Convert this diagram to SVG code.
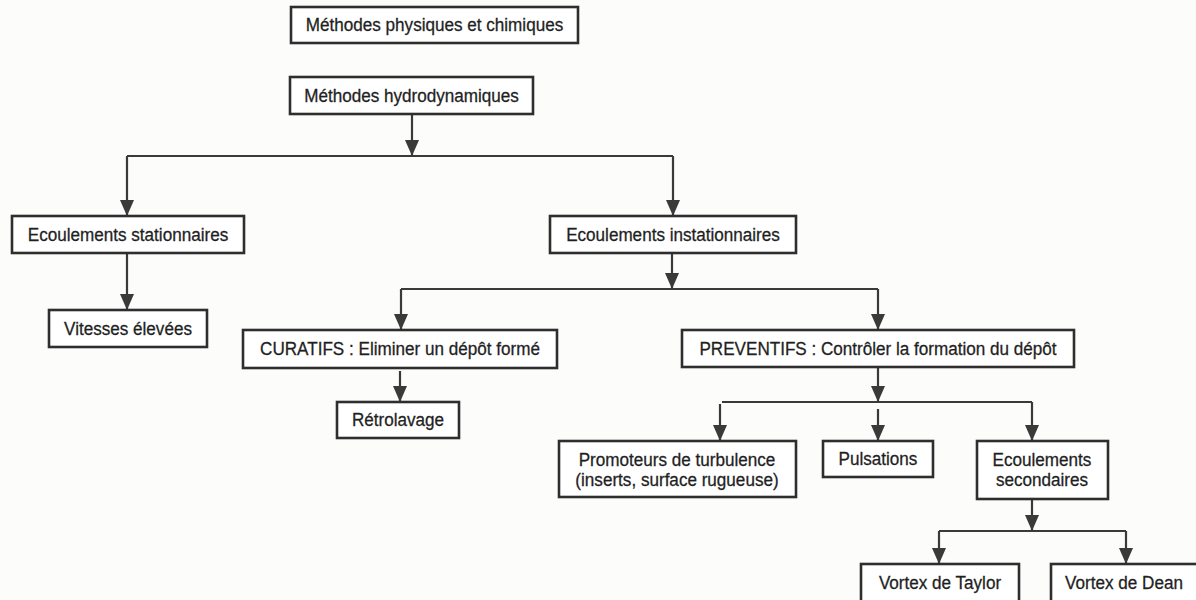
<svg xmlns="http://www.w3.org/2000/svg" width="1196" height="600" viewBox="0 0 1196 600">
<style>
.box{fill:#ffffff;stroke:#2e2e2e;stroke-width:2.6}
.lbl{font-family:"Liberation Sans",Arial,sans-serif;font-size:19px;fill:#1f1f1f;stroke:#1f1f1f;stroke-width:0.3;text-anchor:middle}
.con{fill:none;stroke:#3a3a3a;stroke-width:2.2}
.arr{fill:none;stroke:#3a3a3a;stroke-width:2.2;marker-end:url(#ah)}
</style>
<defs>
<marker id="ah" viewBox="0 0 16 14" refX="16" refY="7" markerWidth="16" markerHeight="14" markerUnits="userSpaceOnUse" orient="auto">
<path d="M0,0 L16,7 L0,14 z" fill="#3a3a3a"/>
</marker>
</defs>
<rect width="1196" height="600" fill="#fcfcfb"/>
<g id="connectors">
<path class="arr" d="M412,114 V156"/>
<path class="con" d="M127,156 H673"/>
<path class="arr" d="M127,156 V216"/>
<path class="arr" d="M673,156 V216"/>
<path class="arr" d="M127,253 V310"/>
<path class="arr" d="M672,253 V289"/>
<path class="con" d="M401,289 H878"/>
<path class="arr" d="M401,289 V330"/>
<path class="arr" d="M878,289 V330"/>
<path class="arr" d="M400,371 V402"/>
<path class="arr" d="M878,367 V402"/>
<path class="con" d="M722,402 H1032"/>
<path class="arr" d="M720,404 V441"/>
<path class="arr" d="M878,409 V441"/>
<path class="arr" d="M1032,402 V441"/>
<path class="arr" d="M1032,499 V531"/>
<path class="con" d="M939,531 H1126"/>
<path class="arr" d="M939,531 V564"/>
<path class="arr" d="M1126,531 V564"/>
</g>
<g id="n-physiques"><rect class="box" x="291" y="7" width="287" height="36"/><text class="lbl" transform="matrix(0.9,0,0,1,434.5,31)">Méthodes physiques et chimiques</text></g>
<g id="n-hydro"><rect class="box" x="290" y="77" width="243" height="37"/><text class="lbl" transform="matrix(0.9,0,0,1,411.5,101.5)">Méthodes hydrodynamiques</text></g>
<g id="n-stat"><rect class="box" x="12" y="216" width="232" height="37"/><text class="lbl" transform="matrix(0.9,0,0,1,128,240.5)">Ecoulements stationnaires</text></g>
<g id="n-instat"><rect class="box" x="550" y="216" width="246" height="37"/><text class="lbl" transform="matrix(0.9,0,0,1,673,240.5)">Ecoulements instationnaires</text></g>
<g id="n-vitesses"><rect class="box" x="49" y="310" width="158" height="37"/><text class="lbl" transform="matrix(0.9,0,0,1,128,334.5)">Vitesses élevées</text></g>
<g id="n-curatifs"><rect class="box" x="243" y="330" width="314" height="38"/><text class="lbl" transform="matrix(0.9,0,0,1,400,355)">CURATIFS : Eliminer un dépôt formé</text></g>
<g id="n-preventifs"><rect class="box" x="682" y="330" width="392" height="37"/><text class="lbl" transform="matrix(0.9,0,0,1,878,354.5)">PREVENTIFS : Contrôler la formation du dépôt</text></g>
<g id="n-retro"><rect class="box" x="337" y="402" width="122" height="36"/><text class="lbl" transform="matrix(0.9,0,0,1,398,426)">Rétrolavage</text></g>
<g id="n-promoteurs"><rect class="box" x="559" y="441" width="237" height="56"/><text class="lbl" transform="matrix(0.9,0,0,1,677,466)">Promoteurs de turbulence</text><text class="lbl" transform="matrix(0.9,0,0,1,677,486)">(inserts, surface rugueuse)</text></g>
<g id="n-pulsations"><rect class="box" x="823" y="441" width="110" height="36"/><text class="lbl" transform="matrix(0.9,0,0,1,878,465)">Pulsations</text></g>
<g id="n-secondaires"><rect class="box" x="977" y="441" width="131" height="58"/><text class="lbl" transform="matrix(0.9,0,0,1,1042,466)">Ecoulements</text><text class="lbl" transform="matrix(0.9,0,0,1,1042,486)">secondaires</text></g>
<g id="n-taylor"><rect class="box" x="861" y="564" width="158" height="42"/><text class="lbl" transform="matrix(0.9,0,0,1,940,589)">Vortex de Taylor</text></g>
<g id="n-dean"><rect class="box" x="1051" y="564" width="152" height="42"/><text class="lbl" transform="matrix(0.9,0,0,1,1124,589)">Vortex de Dean</text></g>
</svg>
